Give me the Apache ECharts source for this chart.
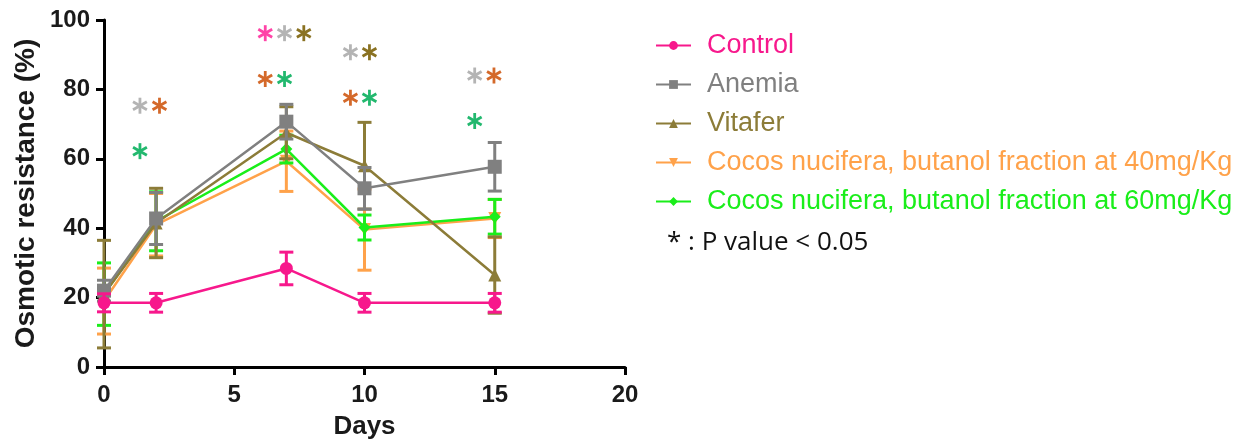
<!DOCTYPE html>
<html><head><meta charset="utf-8">
<script src="https://cdn.jsdelivr.net/npm/echarts@6/dist/echarts.min.js"></script>
<style>html,body{margin:0;padding:0;background:#fff}#c{width:1243px;height:443px}</style>
</head><body><div id="c"></div>
<script>
var days = [0, 2, 7, 10, 15];
var seriesNames = ['Control', 'Anemia', 'Vitafer', 'Cocos nucifera, butanol fraction at 40mg/Kg', 'Cocos nucifera, butanol fraction at 60mg/Kg'];
var control = [18.5, 18.5, 28.4, 18.5, 18.5];
var controlErr = [2.6, 2.7, 4.7, 2.7, 2.7];
var anemia = [22, 42.8, 70.7, 51.5, 57.7];
var anemiaErr = [3, 7.5, 5, 6, 7];
var vitafer = [21, 41.5, 67.5, 58, 26.5];
var vitaferErr = [15.5, 10, 7.5, 12.5, 11];
var cocos40 = [19, 41, 59.3, 39.6, 42.8];
var cocos40Err = [9.5, 9, 8.7, 11.7, 5.5];
var cocos60 = [21, 42, 62.8, 40.2, 43.3];
var cocos60Err = [9, 8.5, 4, 3.6, 5];
// significance asterisks: [day, value, group]
var sigMarks = [
  [1.38, 75.3, 'gray'], [2.13, 75.3, 'orange'], [1.38, 62.2, 'green'],
  [6.19, 96.2, 'pink'], [6.93, 96.2, 'gray'], [7.67, 96.2, 'olive'],
  [6.19, 83, 'orange'], [6.93, 83, 'green'],
  [9.46, 90.7, 'gray'], [10.19, 90.7, 'olive'], [9.46, 77.6, 'orange'], [10.19, 77.6, 'green'],
  [14.23, 84, 'gray'], [14.97, 84, 'orange'], [14.23, 70.9, 'green']
];
var xTicks = [0, 5, 10, 15, 20];
var yTicks = [0, 20, 40, 60, 80, 100];

var colors = ['#f7188c', '#808080', '#8c7c38', '#ffa24a', '#1aee1a'];
var starColors = {pink: '#ff44a8', gray: '#b4b4b4', olive: '#8a7222', orange: '#d4692a', green: '#22b86e'};
var symbols = ['circle', 'rect', 'triangle', 'triangle', 'diamond'];
var symbolRot = [0, 0, 0, 180, 0];
var symbolSizes = [13, 14, 13, 13, 12];
var vals = [control, anemia, vitafer, cocos40, cocos60];
var errs = [controlErr, anemiaErr, vitaferErr, cocos40Err, cocos60Err];
var drawOrder = [3, 4, 2, 1, 0];

var series = [];
drawOrder.forEach(function (i, k) {
  var errData = days.map(function (d, j) { return [d, vals[i][j] - errs[i][j], vals[i][j] + errs[i][j]]; });
  series.push({
    name: 'err' + i, type: 'custom', z: 2 + k * 2, silent: true,
    renderItem: function (params, api) {
      var x = api.value(0);
      var p1 = api.coord([x, api.value(2)]);
      var p2 = api.coord([x, api.value(1)]);
      var w = 7;
      var st = {stroke: colors[i], lineWidth: 3};
      return {type: 'group', children: [
        {type: 'line', shape: {x1: p1[0], y1: p1[1], x2: p2[0], y2: p2[1]}, style: st},
        {type: 'line', shape: {x1: p1[0] - w, y1: p1[1], x2: p1[0] + w, y2: p1[1]}, style: st},
        {type: 'line', shape: {x1: p2[0] - w, y1: p2[1], x2: p2[0] + w, y2: p2[1]}, style: st}
      ]};
    },
    data: errData
  });
  series.push({
    name: seriesNames[i], type: 'line', z: 3 + k * 2,
    data: days.map(function (d, j) { return [d, vals[i][j]]; }),
    symbol: symbols[i], symbolRotate: symbolRot[i], symbolSize: symbolSizes[i], showSymbol: true,
    lineStyle: {color: colors[i], width: 2.5}, itemStyle: {color: colors[i]},
    animation: false
  });
});
series.push({
  name: 'sig', type: 'custom', z: 20, silent: true,
  renderItem: function (params, api) {
    var p = api.coord([api.value(0), api.value(1)]);
    var c = starColors[sigMarks[params.dataIndex][2]];
    var r = 8, st = {stroke: c, lineWidth: 2.8};
    var dx = r * Math.cos(Math.PI / 6), dy = r * Math.sin(Math.PI / 6);
    return {type: 'group', children: [
      {type: 'line', shape: {x1: p[0], y1: p[1] - r, x2: p[0], y2: p[1] + r}, style: st},
      {type: 'line', shape: {x1: p[0] - dx, y1: p[1] - dy, x2: p[0] + dx, y2: p[1] + dy}, style: st},
      {type: 'line', shape: {x1: p[0] - dx, y1: p[1] + dy, x2: p[0] + dx, y2: p[1] - dy}, style: st}
    ]};
  },
  data: sigMarks.map(function (m) { return [m[0], m[1]]; })
});

var chart = echarts.init(document.getElementById('c'), null, {renderer: 'canvas'});
chart.setOption({
  animation: false,
  backgroundColor: '#fff',
  grid: {left: 104, right: 618, top: 20, bottom: 76, containLabel: false, outerBoundsMode: 'none'},
  xAxis: {
    type: 'value', min: xTicks[0], max: xTicks[xTicks.length - 1], interval: 5,
    name: 'Days', nameLocation: 'middle', nameGap: 47,
    nameTextStyle: {fontFamily: 'Liberation Sans', fontWeight: 'bold', fontSize: 26, color: '#1a1a1a', verticalAlign: 'top'},
    axisLine: {lineStyle: {color: '#000', width: 3}},
    axisTick: {length: 8, lineStyle: {color: '#000', width: 3}},
    axisLabel: {fontFamily: 'Liberation Sans', fontWeight: 'bold', fontSize: 24, color: '#1a1a1a', margin: 16},
    splitLine: {show: false}
  },
  yAxis: {
    type: 'value', min: yTicks[0], max: yTicks[yTicks.length - 1], interval: 20,
    name: 'Osmotic resistance (%)', nameLocation: 'middle', nameGap: 64, nameRotate: 90,
    nameTextStyle: {fontFamily: 'Liberation Sans', fontWeight: 'bold', fontSize: 28, color: '#1a1a1a'},
    axisLine: {show: true, lineStyle: {color: '#000', width: 3}},
    axisTick: {show: true, length: 8, lineStyle: {color: '#000', width: 3}},
    axisLabel: {fontFamily: 'Liberation Sans', fontWeight: 'bold', fontSize: 24, color: '#1a1a1a', margin: 14},
    splitLine: {show: false}
  },
  legend: {
    orient: 'vertical', left: 650, top: 27, itemWidth: 35, itemHeight: 11, itemGap: 12,
    textStyle: {fontFamily: 'Liberation Sans', fontSize: 27, lineHeight: 27, padding: [0, 0, 0, 11]},
    selectedMode: false,
    data: seriesNames.map(function (n, i) { return {name: n, textStyle: {color: colors[i]}}; })
  },
  graphic: [{
    type: 'text', left: 667, top: 230,
    style: {text: '* : P value < 0.05', fontFamily: 'Open Sans', fontSize: 26, fill: '#111'}
  }],
  series: series
});
</script></body></html>
